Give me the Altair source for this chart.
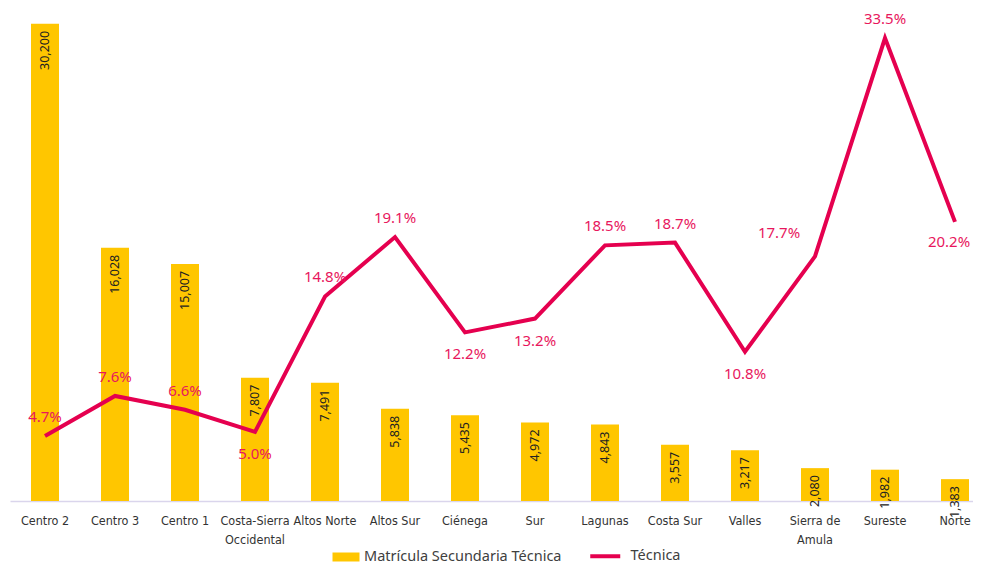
import altair as alt
import pandas as pd

categories = ["Centro 2", "Centro 3", "Centro 1", "Costa-Sierra Occidental", "Altos Norte",
              "Altos Sur", "Ciénega", "Sur", "Lagunas", "Costa Sur", "Valles",
              "Sierra de Amula", "Sureste", "Norte"]
matricula = [30200, 16028, 15007, 7807, 7491, 5838, 5435, 4972, 4843, 3557, 3217, 2080, 1982, 1383]
tecnica = [4.7, 7.6, 6.6, 5.0, 14.8, 19.1, 12.2, 13.2, 18.5, 18.7, 10.8, 17.7, 33.5, 20.2]
label_side = ["above", "above", "above", "below", "above", "above", "below", "below",
              "above", "above", "below", "aboveleft", "above", "belowleft"]

bar_name = "Matrícula Secundaria Técnica"
line_name = "Técnica"
YELLOW = "#FFC600"
RED = "#E5004F"
RED_TXT = "#E8175D"

df = pd.DataFrame({
    "region": categories,
    "matricula": matricula,
    "tecnica": tecnica,
    "side": label_side,
})
df["bar_series"] = bar_name
df["line_series"] = line_name
df["pct"] = [f"{v:.1f}%" for v in tecnica]

label_expr = ("datum.value == 'Costa-Sierra Occidental' ? ['Costa-Sierra', 'Occidental'] : "
              "datum.value == 'Sierra de Amula' ? ['Sierra de', 'Amula'] : datum.value")

x_scale = alt.Scale(paddingInner=0.6, paddingOuter=0.3, range=[0, 980])

x_enc = alt.X("region:N", sort=categories, title=None, scale=x_scale,
              axis=alt.Axis(labelAngle=0, labelExpr=label_expr,
                            labelFont="DejaVu Sans Condensed, Liberation Sans",
                            labelFontSize=12.5, labelColor="#333333", labelPadding=13,
                            labelLineHeight=19, ticks=False, domainColor="#DAD5EC",
                            domainWidth=1.5, grid=False))

x_plain = alt.X("region:N", sort=categories, scale=x_scale)

y_bar = alt.Y("matricula:Q", title=None,
              scale=alt.Scale(domain=[0, 30000], nice=False),
              axis=alt.Axis(values=[0, 5000, 10000, 15000, 20000, 25000, 30000], labels=False,
                            ticks=False, domain=False, grid=True, gridColor="#D9D9D9",
                            gridWidth=1.2))

bars = alt.Chart(df).mark_bar(color=YELLOW).encode(
    x=x_enc,
    y=y_bar,
    color=alt.Color("bar_series:N", title=None,
                    scale=alt.Scale(domain=[bar_name], range=[YELLOW]),
                    legend=alt.Legend(orient="none", legendX=327, legendY=521,
                                      symbolType="M-1.5,-0.5H1.5V0.5H-1.5Z", symbolSize=324,
                                      symbolStrokeWidth=0, labelOffset=9, labelLimit=400,
                                      labelFont="Noto Sans", labelFontSize=14.5,
                                      labelColor="#404040")),
)

bar_text = alt.Chart(df).mark_text(angle=270, align="right", baseline="middle", dx=-7,
                                   font="Noto Sans", fontSize=12.5, color="#222222").encode(
    x=x_plain,
    y=alt.Y("matricula:Q", scale=alt.Scale(domain=[0, 30000], nice=False), axis=None),
    text=alt.Text("matricula:Q", format=","),
)

bar_layer = alt.layer(bars, bar_text)

y_line = alt.Y("tecnica:Q", title=None, scale=alt.Scale(domain=[0, 34.3], nice=False), axis=None)

line = alt.Chart(df).mark_line(strokeWidth=4, color=RED).encode(
    x=x_plain,
    y=y_line,
    color=alt.Color("line_series:N", title=None,
                    scale=alt.Scale(domain=[line_name], range=[RED]),
                    legend=alt.Legend(orient="none", legendX=588, legendY=522,
                                      symbolType="M-3,0H3", symbolSize=100,
                                      symbolStrokeWidth=4, labelOffset=18, labelLimit=200,
                                      labelFont="Noto Sans", labelFontSize=14.5,
                                      labelColor="#404040")),
)

above = alt.Chart(df).transform_filter(alt.datum.side == "above").mark_text(
    dy=-19, font="Noto Sans", fontSize=15, color=RED_TXT).encode(
    x=x_plain, y=y_line, text="pct:N")

above_left = alt.Chart(df).transform_filter(alt.datum.side == "aboveleft").mark_text(
    dy=-23, dx=-36, font="Noto Sans", fontSize=15, color=RED_TXT).encode(
    x=x_plain, y=y_line, text="pct:N")

below = alt.Chart(df).transform_filter(alt.datum.side == "below").mark_text(
    dy=22, font="Noto Sans", fontSize=15, color=RED_TXT).encode(
    x=x_plain, y=y_line, text="pct:N")

below_left = alt.Chart(df).transform_filter(alt.datum.side == "belowleft").mark_text(
    dy=20, dx=-6, font="Noto Sans", fontSize=15, color=RED_TXT).encode(
    x=x_plain, y=y_line, text="pct:N")

line_layer = alt.layer(line, above, above_left, below, below_left)

chart = alt.layer(bar_layer, line_layer).resolve_scale(
    y="independent", color="independent"
).properties(
    width=963, height=474,
    padding={"left": 2, "top": 19, "right": 0, "bottom": 67},
    autosize=alt.AutoSizeParams(type="none"),
    background="white",
).configure_view(stroke=None)

chart.save("out.html", embed_options={"renderer": "svg", "actions": False})
